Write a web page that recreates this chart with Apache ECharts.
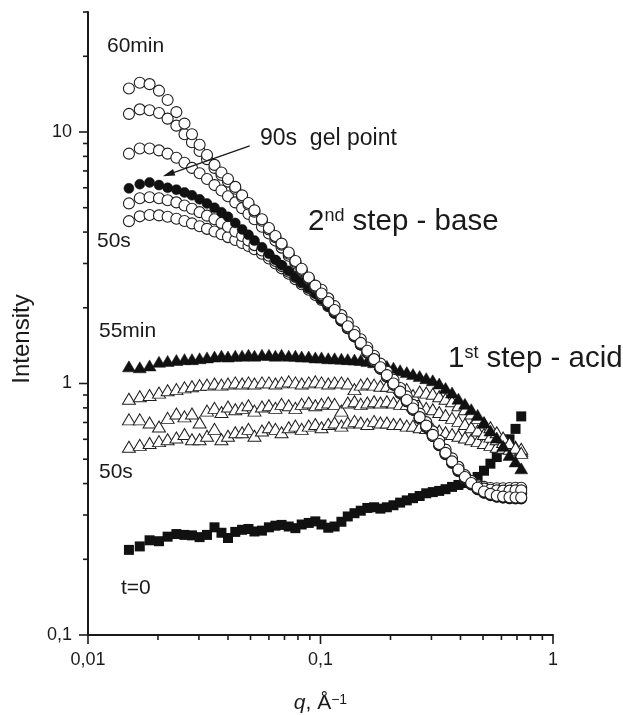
<!DOCTYPE html>
<html>
<head>
<meta charset="utf-8">
<script src="https://cdn.jsdelivr.net/npm/echarts/dist/echarts.min.js"></script>
<style>html,body{margin:0;padding:0;background:#fff}#chart{width:623px;height:715px}</style>
</head>
<body>
<div id="chart"></div>
<script>
// ---------- data ----------
const q = [0.0150,0.0167,0.0184,0.0202,0.0220,0.0240,0.0260,0.0280,0.0302,0.0325,0.0350,0.0375,0.0400,0.0430,0.0460,0.0490,0.0520,0.0560,0.0600,0.0640,0.0680,0.0730,0.0780,0.0830,0.0890,0.0950,0.101,0.108,0.115,0.123,0.131,0.140,0.149,0.159,0.170,0.181,0.193,0.206,0.220,0.235,0.250,0.267,0.285,0.304,0.324,0.345,0.368,0.392,0.418,0.445,0.474,0.505,0.538,0.573,0.610,0.650,0.690,0.730];

// 2nd step (base): open circles, 50s ... 60min, filled = 90s gel point
const base60min = [14.9,15.7,15.5,14.6,13.4,12.0,10.8,9.8,8.9,8.1,7.4,6.9,6.5,6.05,5.6,5.22,4.88,4.5,4.15,3.86,3.6,3.32,3.07,2.86,2.64,2.45,2.28,2.11,1.96,1.81,1.69,1.56,1.45,1.35,1.25,1.16,1.08,1.0,0.928,0.86,0.795,0.735,0.68,0.625,0.575,0.53,0.49,0.455,0.425,0.402,0.385,0.372,0.364,0.358,0.355,0.353,0.352,0.352];
const baseB = [11.8,12.3,12.2,11.9,11.3,10.6,9.8,9.1,8.4,7.8,7.2,6.75,6.35,5.95,5.52,5.15,4.82,4.44,4.1,3.82,3.56,3.28,3.04,2.83,2.62,2.43,2.36,2.18,2.03,1.87,1.75,1.61,1.50,1.39,1.29,1.20,1.115,1.035,0.959,0.889,0.822,0.759,0.702,0.645,0.593,0.546,0.504,0.466,0.432,0.41,0.39,0.382,0.378,0.376,0.375,0.375,0.376,0.376];
const baseC = [8.2,8.6,8.6,8.45,8.2,7.9,7.55,7.2,6.85,6.5,6.15,5.85,5.55,5.25,4.98,4.72,4.5,4.2,3.95,3.7,3.47,3.22,3.0,2.8,2.6,2.41,2.25,2.09,1.94,1.8,1.67,1.55,1.44,1.335,1.235,1.15,1.07,0.99,0.92,0.853,0.79,0.73,0.675,0.62,0.572,0.528,0.49,0.456,0.428,0.408,0.395,0.388,0.384,0.383,0.383,0.384,0.385,0.385];
const base90sGel = [5.97,6.2,6.3,6.15,6.0,5.9,5.75,5.6,5.4,5.2,5.0,4.8,4.6,4.35,4.1,3.9,3.7,3.48,3.28,3.1,2.95,2.8,2.65,2.52,2.4,2.28,2.16,2.03,1.9,1.77,1.65,1.53,1.42,1.32,1.22,1.14,1.06,0.985,0.912,0.845,0.782,0.722,0.668,0.615,0.566,0.522,0.483,0.448,0.418,0.395,0.378,0.366,0.358,0.353,0.35,0.348,0.347,0.347];
const baseD = [5.2,5.45,5.5,5.45,5.35,5.25,5.1,4.95,4.8,4.65,4.5,4.35,4.2,4.02,3.86,3.7,3.55,3.38,3.22,3.07,2.93,2.78,2.65,2.52,2.4,2.29,2.18,2.05,1.92,1.78,1.66,1.54,1.43,1.325,1.228,1.145,1.065,0.99,0.917,0.85,0.787,0.727,0.672,0.618,0.569,0.525,0.486,0.452,0.424,0.403,0.388,0.378,0.371,0.367,0.365,0.365,0.366,0.366];
const base50s = [4.42,4.62,4.68,4.66,4.6,4.52,4.43,4.33,4.22,4.12,4.02,3.92,3.82,3.72,3.62,3.52,3.42,3.28,3.14,3.0,2.87,2.73,2.6,2.48,2.36,2.25,2.15,2.03,1.91,1.78,1.66,1.54,1.43,1.328,1.23,1.147,1.066,0.99,0.918,0.851,0.788,0.728,0.672,0.618,0.568,0.523,0.483,0.448,0.419,0.397,0.38,0.368,0.36,0.355,0.352,0.35,0.35,0.35];

// 1st step (acid): triangles, 50s ... 55min (filled)
const acid55min = [1.17,1.16,1.18,1.22,1.23,1.24,1.25,1.25,1.26,1.27,1.28,1.29,1.28,1.29,1.29,1.30,1.29,1.30,1.30,1.29,1.30,1.29,1.29,1.28,1.28,1.27,1.27,1.26,1.26,1.255,1.25,1.245,1.24,1.23,1.215,1.195,1.175,1.155,1.13,1.11,1.09,1.07,1.05,1.03,1.0,0.96,0.92,0.87,0.83,0.79,0.75,0.70,0.65,0.61,0.565,0.52,0.49,0.46];
const acidT1 = [0.87,0.89,0.9,0.92,0.94,0.95,0.965,0.975,0.985,0.99,1.0,0.99,1.0,1.01,1.0,1.01,1.0,1.01,1.01,1.0,1.01,1.02,1.01,1.0,1.01,1.02,1.01,1.0,1.01,1.01,1.0,0.95,0.99,1.0,0.99,0.98,0.98,0.97,0.96,0.95,0.9,0.93,0.92,0.91,0.89,0.87,0.85,0.82,0.79,0.76,0.73,0.70,0.67,0.64,0.61,0.58,0.555,0.53];
const acidT2 = [0.72,0.72,0.70,0.675,0.73,0.76,0.74,0.76,0.70,0.78,0.80,0.77,0.81,0.79,0.80,0.82,0.78,0.81,0.82,0.80,0.83,0.82,0.80,0.83,0.84,0.82,0.83,0.84,0.83,0.78,0.84,0.85,0.83,0.84,0.85,0.84,0.85,0.84,0.83,0.83,0.82,0.81,0.80,0.79,0.77,0.75,0.73,0.71,0.69,0.67,0.65,0.63,0.615,0.60,0.585,0.57,0.56,0.55];
const acid50s = [0.56,0.57,0.58,0.59,0.60,0.61,0.63,0.60,0.60,0.62,0.66,0.60,0.62,0.64,0.64,0.66,0.62,0.65,0.67,0.66,0.64,0.67,0.68,0.66,0.68,0.69,0.67,0.69,0.70,0.68,0.70,0.71,0.70,0.69,0.71,0.70,0.70,0.69,0.69,0.68,0.68,0.67,0.665,0.66,0.65,0.64,0.63,0.62,0.61,0.60,0.59,0.58,0.57,0.56,0.555,0.55,0.545,0.54];

// t = 0: filled squares
const t0 = [0.218,0.225,0.238,0.236,0.246,0.252,0.25,0.249,0.245,0.25,0.268,0.255,0.243,0.257,0.262,0.264,0.258,0.26,0.268,0.272,0.274,0.27,0.266,0.275,0.279,0.283,0.275,0.267,0.27,0.282,0.296,0.305,0.312,0.32,0.322,0.318,0.322,0.328,0.336,0.343,0.35,0.357,0.366,0.37,0.374,0.38,0.388,0.395,0.402,0.41,0.425,0.45,0.48,0.51,0.55,0.6,0.66,0.74];

// axes
const xMajorTicks = [0.01, 0.1, 1];
const xTickLabels = ['0,01', '0,1', '1'];
const xMinorTicks = [0.02,0.03,0.04,0.05,0.06,0.07,0.08,0.09,0.2,0.3,0.4,0.5,0.6,0.7,0.8,0.9];
const yMajorTicks = [0.1, 1, 10];
const yTickLabels = ['0,1', '1', '10'];
const yMinorTicks = [0.2,0.3,0.4,0.5,0.6,0.7,0.8,0.9,2,3,4,5,6,7,8,9,20,30];
const X_MIN = 0.01, X_MAX = 1, Y_MIN = 0.1, Y_MAX = 30;

// arrow annotation (data coordinates)
const arrowFrom = [0.0496, 8.8];
const arrowTo = [0.0222, 6.79];

// ---------- chart ----------
const FONT = "'Liberation Sans', Arial, Helvetica, sans-serif";
const INK = '#1a1a1a';
const pts = ys => q.map((x, i) => [x, ys[i]]);
function labelFor(v, ticks, labels) {
  const i = ticks.findIndex(t => Math.abs(Math.log10(t) - Math.log10(v)) < 1e-6);
  return i >= 0 ? labels[i] : '';
}

const openCircle = { symbol: 'circle', symbolSize: 11, itemStyle: { color: '#fff', borderColor: '#1e1e1e', borderWidth: 1.1, opacity: 1 } };
const filledCircle = { symbol: 'circle', symbolSize: 10, itemStyle: { color: '#111', borderColor: '#111', borderWidth: 0.5, opacity: 1 } };
const openTri = { symbol: 'triangle', symbolSize: [13, 11], itemStyle: { color: '#fff', borderColor: '#1e1e1e', borderWidth: 1, opacity: 1 } };
const filledTri = { symbol: 'triangle', symbolSize: [13, 11], itemStyle: { color: '#111', borderColor: '#111', borderWidth: 0.5, opacity: 1 } };
const filledSq = { symbol: 'rect', symbolSize: 10, itemStyle: { color: '#111', opacity: 1 } };

function sc(name, ys, style) {
  return Object.assign({ type: 'scatter', name: name, data: pts(ys), silent: true, animation: false }, style);
}

const tickRender = (horizontal) => (params, api) => {
  const c = api.coord([api.value(0), api.value(1)]);
  const len = api.value(2) ? 9 : 5;
  const shape = horizontal
    ? { x1: c[0], y1: c[1], x2: c[0], y2: c[1] + len }
    : { x1: c[0], y1: c[1], x2: c[0] - len, y2: c[1] };
  return { type: 'line', shape: shape, style: { stroke: INK, lineWidth: 1.6 } };
};

const series = [
  sc('t=0', t0, filledSq),
  sc('acid 50s', acid50s, openTri),
  sc('acid T2', acidT2, openTri),
  sc('acid T1', acidT1, openTri),
  sc('acid 55min', acid55min, filledTri),
  sc('base 50s', base50s, openCircle),
  sc('base D', baseD, openCircle),
  Object.assign(sc('base 90s gel point', base90sGel, filledCircle), {
    markLine: {
      silent: true, animation: false,
      symbol: ['none', 'triangle'], symbolSize: [7, 12],
      lineStyle: { color: INK, width: 1.3, type: 'solid', opacity: 1 },
      itemStyle: { color: INK, opacity: 1 },
      label: { show: false },
      data: [[{ coord: arrowFrom }, { coord: arrowTo }]]
    }
  }),
  sc('base C', baseC, openCircle),
  sc('base B', baseB, openCircle),
  sc('base 60min', base60min, openCircle),
  {
    type: 'custom', silent: true, clip: false, animation: false, z: 10,
    data: xMajorTicks.map(v => [v, Y_MIN, 1]).concat(xMinorTicks.map(v => [v, Y_MIN, 0])),
    encode: { x: 0, y: 1 },
    renderItem: tickRender(true)
  },
  {
    type: 'custom', silent: true, clip: false, animation: false, z: 10,
    data: yMajorTicks.map(v => [X_MIN, v, 1]).concat(yMinorTicks.map(v => [X_MIN, v, 0])),
    encode: { x: 0, y: 1 },
    renderItem: tickRender(false)
  }
];

const txt = (x, y, text, size) => ({
  type: 'text', x: x, y: y, silent: true,
  style: { text: text, fontSize: size, fontFamily: FONT, fill: INK, align: 'left', verticalAlign: 'middle' }
});
const supTxt = (x, y, main, sup, rest) => ({
  type: 'text', x: x, y: y, silent: true,
  style: {
    text: '{a|' + main + '}{b|' + sup + '}{a|' + rest + '}',
    align: 'left', verticalAlign: 'middle',
    rich: {
      a: { fontSize: 29.5, fontFamily: FONT, fill: INK },
      b: { fontSize: 18, fontFamily: FONT, fill: INK, verticalAlign: 'top' }
    }
  }
});

const option = {
  animation: false,
  backgroundColor: '#fff',
  grid: { left: 88, right: 70, top: 12, bottom: 80, containLabel: false, outerBoundsMode: 'none' },
  xAxis: {
    type: 'log', logBase: 10, min: X_MIN, max: X_MAX,
    axisLine: { show: true, onZero: false, lineStyle: { color: INK, width: 2 } },
    axisTick: { show: false },
    minorTick: { show: false },
    splitLine: { show: false },
    axisLabel: { fontSize: 18, fontFamily: FONT, color: INK, margin: 16, formatter: v => labelFor(v, xMajorTicks, xTickLabels) },
    name: '{i|q}{r|, Å}{s|−1}',
    nameLocation: 'middle', nameGap: 58,
    nameTextStyle: {
      rich: {
        i: { fontSize: 21, fontFamily: FONT, fontStyle: 'italic', color: INK },
        r: { fontSize: 21, fontFamily: FONT, color: INK },
        s: { fontSize: 14, fontFamily: FONT, color: INK, verticalAlign: 'top' }
      }
    }
  },
  yAxis: {
    type: 'log', logBase: 10, min: Y_MIN, max: Y_MAX,
    axisLine: { show: true, onZero: false, lineStyle: { color: INK, width: 2 } },
    axisTick: { show: false },
    minorTick: { show: false },
    splitLine: { show: false },
    axisLabel: { fontSize: 18, fontFamily: FONT, color: INK, margin: 16, formatter: v => labelFor(v, yMajorTicks, yTickLabels) },
    name: 'Intensity',
    nameLocation: 'middle', nameGap: 54, nameRotate: 90,
    nameTextStyle: { fontSize: 24, fontFamily: FONT, color: INK, padding: [0, 31, 0, 0] }
  },
  graphic: [
    txt(107, 46, '60min', 21),
    txt(260, 139, '90s  gel point', 23),
    supTxt(308, 222, '2', 'nd', ' step - base'),
    txt(97, 241, '50s', 21),
    txt(99, 331, '55min', 21),
    supTxt(448, 359, '1', 'st', ' step - acid'),
    txt(99, 472, '50s', 21),
    txt(121, 588, 't=0', 21)
  ],
  series: series
};

const chart = echarts.init(document.getElementById('chart'), null, { renderer: 'canvas' });
chart.setOption(option);
</script>
</body>
</html>
